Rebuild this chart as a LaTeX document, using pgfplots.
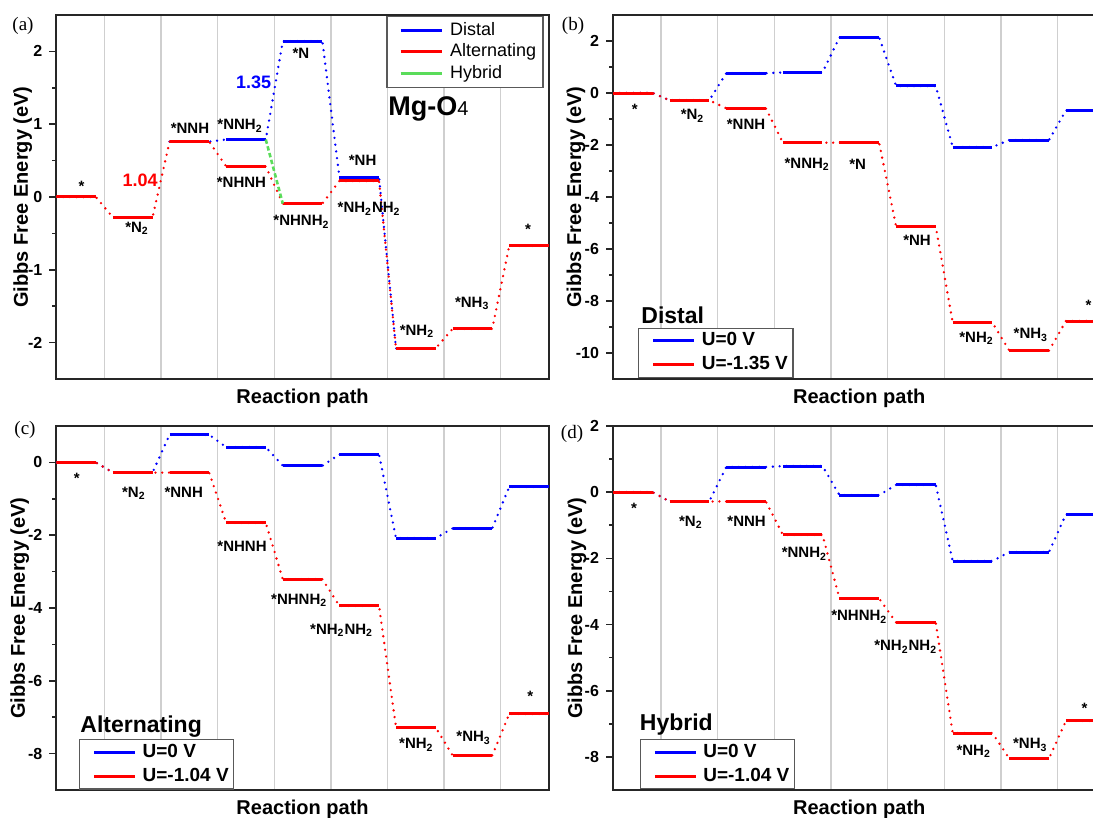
\documentclass[border=0pt]{standalone}
\usepackage{pgfplots}
\pgfplotsset{compat=1.18}
\usepackage{pgfplotstable}
\usepackage{fontspec}
\setmainfont{Liberation Sans}
\newfontfamily\seriffont{Liberation Serif}
\newcommand\fs[1]{\fontsize{#1}{#1}\selectfont}
\newcommand\sub[1]{\textsubscript{#1}}
\definecolor{cblue}{HTML}{0000FF}
\definecolor{cred}{HTML}{FF0000}
\definecolor{cgreen}{HTML}{5ADC5A}

% Panel (a): Distal (only the part that differs) and Alternating, U = 0
\pgfplotstableread{
x dist alt
-0.35 nan 0
0.35 nan 0
nan nan nan
0.65 nan -0.28
1.35 nan -0.28
nan nan nan
1.65 0.76 0.76
2.35 0.76 0.76
nan nan nan
2.65 0.79 0.42
3.35 0.79 0.42
nan nan nan
3.65 2.14 -0.09
4.35 2.14 -0.09
nan nan nan
4.65 0.27 0.22
5.35 0.27 0.22
nan nan nan
5.65 -2.08 -2.08
6.35 -2.08 -2.08
nan nan nan
6.65 nan -1.81
7.35 nan -1.81
nan nan nan
7.65 nan -0.67
8.35 nan -0.67
}\tabA
\pgfplotstableread{
x hyb
3.35 0.79
3.65 -0.09
}\tabAh
% Panel (b): Distal, U=0 and U=-1.35 V
\pgfplotstableread{
x u0 u1
-0.35 0 0
0.35 0 0
nan nan nan
0.65 -0.28 -0.28
1.35 -0.28 -0.28
nan nan nan
1.65 0.76 -0.59
2.35 0.76 -0.59
nan nan nan
2.65 0.79 -1.91
3.35 0.79 -1.91
nan nan nan
3.65 2.14 -1.91
4.35 2.14 -1.91
nan nan nan
4.65 0.27 -5.13
5.35 0.27 -5.13
nan nan nan
5.65 -2.08 -8.83
6.35 -2.08 -8.83
nan nan nan
6.65 -1.81 -9.91
7.35 -1.81 -9.91
nan nan nan
7.65 -0.67 -8.77
8.35 -0.67 -8.77
}\tabB
% Panel (c): Alternating, U=0 and U=-1.04 V
\pgfplotstableread{
x u0 u1
-0.35 0 0
0.35 0 0
nan nan nan
0.65 -0.28 -0.28
1.35 -0.28 -0.28
nan nan nan
1.65 0.76 -0.28
2.35 0.76 -0.28
nan nan nan
2.65 0.42 -1.66
3.35 0.42 -1.66
nan nan nan
3.65 -0.09 -3.21
4.35 -0.09 -3.21
nan nan nan
4.65 0.22 -3.94
5.35 0.22 -3.94
nan nan nan
5.65 -2.08 -7.28
6.35 -2.08 -7.28
nan nan nan
6.65 -1.81 -8.05
7.35 -1.81 -8.05
nan nan nan
7.65 -0.67 -6.91
8.35 -0.67 -6.91
}\tabC
% Panel (d): Hybrid, U=0 and U=-1.04 V
\pgfplotstableread{
x u0 u1
-0.35 0 0
0.35 0 0
nan nan nan
0.65 -0.28 -0.28
1.35 -0.28 -0.28
nan nan nan
1.65 0.76 -0.28
2.35 0.76 -0.28
nan nan nan
2.65 0.79 -1.29
3.35 0.79 -1.29
nan nan nan
3.65 -0.09 -3.21
4.35 -0.09 -3.21
nan nan nan
4.65 0.22 -3.94
5.35 0.22 -3.94
nan nan nan
5.65 -2.08 -7.28
6.35 -2.08 -7.28
nan nan nan
6.65 -1.81 -8.05
7.35 -1.81 -8.05
nan nan nan
7.65 -0.67 -6.91
8.35 -0.67 -6.91
}\tabD

\pgfplotsset{
  panel/.style={
    scale only axis, width=246.3pt, height=182pt,
    xmin=-0.35, xmax=8.35,
    xtick={0.5,1.5,...,7.5}, xticklabels={}, xmajorgrids,
    x tick style={draw=none},
    major x grid style={black!19, line width=0.7pt},
    ytick pos=left, tick align=outside,
    major tick length=3.5pt, minor tick length=2pt,
    y tick style={black!85, line width=0.8pt},
    minor y tick num=1,
    axis line style={black!85, line width=1pt},
    yticklabel style={font=\bfseries\fs{8}},
    /pgf/number format/assume math mode=true,
    xlabel={Reaction path}, ylabel={Gibbs Free Energy (eV)},
    label style={font=\bfseries\fs{10}},
    xlabel style={at={(axis description cs:0.5,-0.066)}, anchor=base},
    legend cell align=left,
  },
  lev/.style={line width=1.5pt, unbounded coords=jump, mark=none, forget plot},
  con/.style={line width=1.3pt, line cap=round, dash pattern=on 0pt off 3.4pt, unbounded coords=discard, mark=none, forget plot},
  leguv/.style={legend style={anchor=south west, font=\bfseries\fs{9.5}, draw=black!65, line width=0.6pt,
      inner xsep=2pt, inner ysep=0.8pt, nodes={inner sep=0.5pt, text height=7.5pt, text depth=2.5pt},
      row sep=1pt, /tikz/every odd column/.append style={column sep=2.5pt}},
    legend image code/.code={\path (0pt,0pt); \draw[##1,solid,line width=1.5pt] (5pt,0pt) -- (25.5pt,0pt);}},
}
\newcommand\lab{\bfseries\fs{7.5}}

\begin{document}
\begin{tikzpicture}
% ---------------- (a) ----------------
\begin{axis}[panel, at={(28.15pt,-189.5pt)}, anchor=south west,
  ymin=-2.5, ymax=2.5, ytick={-2,-1,0,1,2},
  ylabel style={at={(axis description cs:-0.068,0.5)}, anchor=center},
  legend style={at={(axis description cs:0.67,0.998)}, anchor=north west, font=\fs{9}, draw=black!65, line width=0.6pt,
    inner xsep=3pt, inner ysep=2pt, nodes={inner sep=0.5pt, text height=7pt, text depth=2pt},
    row sep=0.75pt, /tikz/every odd column/.append style={column sep=3pt}},
  legend image code/.code={\path (0pt,0pt); \draw[#1,solid,line width=1.5pt] (3.5pt,0pt) -- (24pt,0pt);},
]
\addlegendimage{cblue}\addlegendentry{Distal}
\addlegendimage{cred}\addlegendentry{Alternating}
\addlegendimage{cgreen}\addlegendentry{Hybrid}
\addplot[con, cblue] table[x=x, y=dist] {\tabA};
\addplot[lev, cblue] table[x=x, y=dist] {\tabA};
\addplot[con, cred] table[x=x, y=alt] {\tabA};
\addplot[lev, cred] table[x=x, y=alt] {\tabA};
\addplot[cgreen, line width=1.3pt, dash pattern=on 2.2pt off 1.3pt, mark=none, forget plot] table[x=x, y=hyb] {\tabAh};
\node[anchor=base, font=\lab] at (axis cs:0.095,0.08) {*};
\node[anchor=base, font=\lab] at (axis cs:1.076,-0.487) {*N\sub{2}};
\node[anchor=base, font=\lab] at (axis cs:2.01,0.871) {*NNH};
\node[anchor=base, font=\lab] at (axis cs:2.896,0.926) {*NNH\sub{2}};
\node[anchor=base, font=\lab] at (axis cs:2.92,0.137) {*NHNH};
\node[anchor=base, font=\lab] at (axis cs:3.97,1.907) {*N};
\node[anchor=base, font=\lab] at (axis cs:3.98,-0.397) {*NHNH\sub{2}};
\node[anchor=base, font=\lab] at (axis cs:5.06,0.434) {*NH};
\node[anchor=base, font=\lab] at (axis cs:5.175,-0.213) {*NH\sub{2}NH\sub{2}};
\node[anchor=base, font=\lab] at (axis cs:6.02,-1.90) {*NH\sub{2}};
\node[anchor=base, font=\lab] at (axis cs:6.995,-1.513) {*NH\sub{3}};
\node[anchor=base, font=\lab] at (axis cs:7.98,-0.52) {*};
\node[anchor=base, font=\bfseries\fs{9}, text=cred] at (axis cs:1.13,0.142) {1.04};
\node[anchor=base, font=\bfseries\fs{9}, text=cblue] at (axis cs:3.134,1.497) {1.35};
\node[anchor=base west, inner sep=0pt, font=\bfseries\fs{13.5}] at (axis cs:5.51,1.118) {Mg-O{\mdseries\fs{10}4}};
\end{axis}
% ---------------- (b) ----------------
\begin{axis}[panel, at={(306.5pt,-189.5pt)}, anchor=south west,
  ymin=-11, ymax=3, ytick={-10,-8,...,2},
  ylabel style={at={(axis description cs:-0.075,0.5)}, anchor=center},
  leguv, legend style={at={(axis description cs:0.051,0.003)}},
]
\addlegendimage{cblue}\addlegendentry{U=0 V}
\addlegendimage{cred}\addlegendentry{U=-1.35 V}
\addplot[con, cblue] table[x=x, y=u0] {\tabB};
\addplot[lev, cblue] table[x=x, y=u0] {\tabB};
\addplot[con, cred] table[x=x, y=u1] {\tabB};
\addplot[lev, cred] table[x=x, y=u1] {\tabB};
\node[anchor=base, font=\lab] at (axis cs:0.035,-0.81) {*};
\node[anchor=base, font=\lab] at (axis cs:1.055,-1.02) {*N\sub{2}};
\node[anchor=base, font=\lab] at (axis cs:2.0,-1.40) {*NNH};
\node[anchor=base, font=\lab] at (axis cs:3.08,-2.89) {*NNH\sub{2}};
\node[anchor=base, font=\lab] at (axis cs:3.97,-2.95) {*N};
\node[anchor=base, font=\lab] at (axis cs:5.02,-5.85) {*NH};
\node[anchor=base, font=\lab] at (axis cs:6.07,-9.58) {*NH\sub{2}};
\node[anchor=base, font=\lab] at (axis cs:7.03,-9.45) {*NH\sub{3}};
\node[anchor=base, font=\lab] at (axis cs:8.05,-8.36) {*};
\node[anchor=base west, inner sep=0pt, font=\bfseries\fs{11.5}] at (axis cs:0.145,-8.88) {Distal};
\end{axis}
% ---------------- (c) ----------------
\begin{axis}[panel, at={(28.15pt,-395pt)}, anchor=south west,
  ymin=-9, ymax=1, ytick={-8,-6,...,0},
  ylabel style={at={(axis description cs:-0.074,0.5)}, anchor=center},
  leguv, legend style={at={(axis description cs:0.046,0.001)}},
]
\addlegendimage{cblue}\addlegendentry{U=0 V}
\addlegendimage{cred}\addlegendentry{U=-1.04 V}
\addplot[con, cblue] table[x=x, y=u0] {\tabC};
\addplot[lev, cblue] table[x=x, y=u0] {\tabC};
\addplot[con, cred] table[x=x, y=u1] {\tabC};
\addplot[lev, cred] table[x=x, y=u1] {\tabC};
\node[anchor=base, font=\lab] at (axis cs:0.01,-0.57) {*};
\node[anchor=base, font=\lab] at (axis cs:1.02,-0.956) {*N\sub{2}};
\node[anchor=base, font=\lab] at (axis cs:1.90,-0.956) {*NNH};
\node[anchor=base, font=\lab] at (axis cs:2.93,-2.44) {*NHNH};
\node[anchor=base, font=\lab] at (axis cs:3.94,-3.90) {*NHNH\sub{2}};
\node[anchor=base, font=\lab] at (axis cs:4.69,-4.72) {*NH\sub{2}NH\sub{2}};
\node[anchor=base, font=\lab] at (axis cs:6.01,-7.86) {*NH\sub{2}};
\node[anchor=base, font=\lab] at (axis cs:7.02,-7.67) {*NH\sub{3}};
\node[anchor=base, font=\lab] at (axis cs:8.02,-6.57) {*};
\node[anchor=base west, inner sep=0pt, font=\bfseries\fs{11.5}] at (axis cs:0.069,-7.42) {Alternating};
\end{axis}
% ---------------- (d) ----------------
\begin{axis}[panel, at={(306.5pt,-395pt)}, anchor=south west,
  ymin=-9, ymax=2, ytick={-8,-6,...,2},
  ylabel style={at={(axis description cs:-0.073,0.5)}, anchor=center},
  leguv, legend style={at={(axis description cs:0.054,0.002)}},
]
\addlegendimage{cblue}\addlegendentry{U=0 V}
\addlegendimage{cred}\addlegendentry{U=-1.04 V}
\addplot[con, cblue] table[x=x, y=u0] {\tabD};
\addplot[lev, cblue] table[x=x, y=u0] {\tabD};
\addplot[con, cred] table[x=x, y=u1] {\tabD};
\addplot[lev, cred] table[x=x, y=u1] {\tabD};
\node[anchor=base, font=\lab] at (axis cs:0.02,-0.65) {*};
\node[anchor=base, font=\lab] at (axis cs:1.025,-1.03) {*N\sub{2}};
\node[anchor=base, font=\lab] at (axis cs:2.01,-1.03) {*NNH};
\node[anchor=base, font=\lab] at (axis cs:3.03,-1.985) {*NNH\sub{2}};
\node[anchor=base, font=\lab] at (axis cs:4.0,-3.89) {*NHNH\sub{2}};
\node[anchor=base, font=\lab] at (axis cs:4.82,-4.79) {*NH\sub{2}NH\sub{2}};
\node[anchor=base, font=\lab] at (axis cs:6.02,-7.95) {*NH\sub{2}};
\node[anchor=base, font=\lab] at (axis cs:7.02,-7.75) {*NH\sub{3}};
\node[anchor=base, font=\lab] at (axis cs:7.98,-6.7) {*};
\node[anchor=base west, inner sep=0pt, font=\bfseries\fs{11.5}] at (axis cs:0.118,-7.2) {Hybrid};
\end{axis}
% panel letters
\node[font=\seriffont\fs{9.5}] at (11.5pt,-13pt) {(a)};
\node[font=\seriffont\fs{9.5}] at (286.5pt,-13pt) {(b)};
\node[font=\seriffont\fs{9.5}] at (12.5pt,-215pt) {(c)};
\node[font=\seriffont\fs{9.5}] at (286pt,-217pt) {(d)};
\pgfresetboundingbox
\path[use as bounding box] (0pt,0pt) rectangle (546.5pt,-409pt);
\end{tikzpicture}
\end{document}
